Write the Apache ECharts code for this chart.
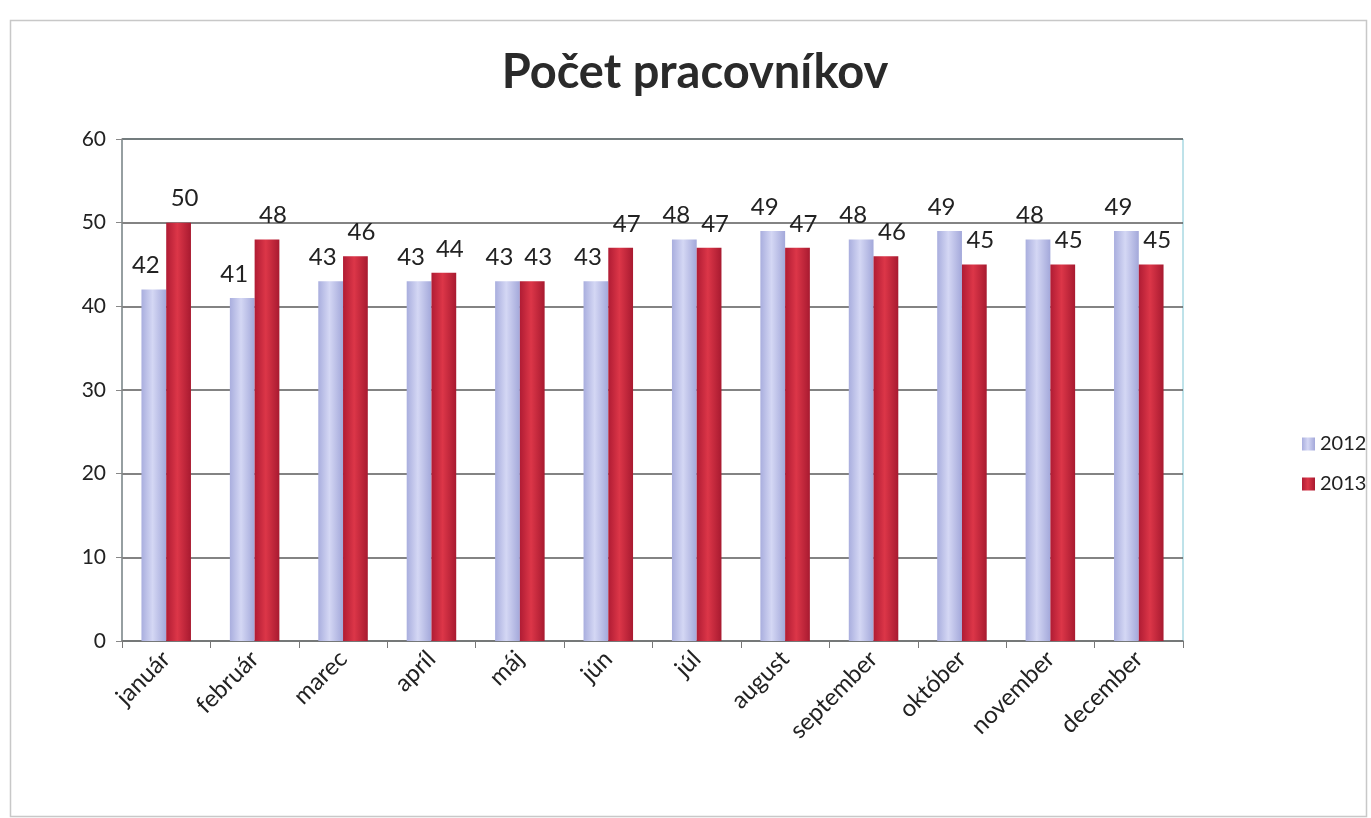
<!DOCTYPE html>
<html>
<head>
<meta charset="utf-8">
<script src="https://cdn.jsdelivr.net/npm/echarts@6/dist/echarts.min.js"></script>
<style>
html,body{margin:0;padding:0;background:#fff;}
#chart{width:1371px;height:818px;}
</style>
</head>
<body>
<div id="chart"></div>
<script>
const categories = ['január','február','marec','apríl','máj','jún','júl','august','september','október','november','december'];
const values2012 = [42,41,43,43,43,43,48,49,48,49,48,49];
const values2013 = [50,48,46,44,43,47,47,47,46,45,45,45];
const yTicks = [0,10,20,30,40,50,60];

const FONT = 'Lato, "Open Sans", sans-serif';
const chart = echarts.init(document.getElementById('chart'));

const lav = new echarts.graphic.LinearGradient(0,0,1,0,[
  {offset:0,color:'#a9aede'},
  {offset:0.45,color:'#d4d7f4'},
  {offset:1,color:'#a3a8da'}
]);
const red = new echarts.graphic.LinearGradient(0,0,1,0,[
  {offset:0,color:'#b01c34'},
  {offset:0.45,color:'#dc3648'},
  {offset:1,color:'#a81a30'}
]);

chart.setOption({
  animation:false,
  backgroundColor:'#fff',
  graphic:[{
    type:'rect', left:8, top:18, shape:{width:1356,height:796},
    style:{fill:'none',stroke:'#c8c8c8',lineWidth:1.5}, silent:true
  }],
  title:{
    text:'Počet pracovníkov', left:690, top:44, textAlign:'center',
    textStyle:{fontFamily:FONT,fontSize:47,fontWeight:'bold',color:'#2a2a2a'}
  },
  legend:{
    orient:'vertical', left:1302, top:434, itemWidth:13, itemHeight:13, itemGap:20,
    icon:'rect', padding:0,
    textStyle:{fontFamily:FONT,fontSize:20,color:'#222'},
    data:['2012','2013']
  },
  grid:{left:122,right:188,top:139,bottom:177,show:true,borderColor:'#7fc6d4',borderWidth:1,backgroundColor:'transparent'},
  xAxis:{
    type:'category', data:categories,
    axisLine:{lineStyle:{color:'#777',width:1.5}},
    axisTick:{show:true,alignWithLabel:false,length:7,lineStyle:{color:'#777'}},
    axisLabel:{rotate:45,fontFamily:FONT,fontSize:24,color:'#222',margin:14,interval:0}
  },
  yAxis:{
    type:'value', min:yTicks[0], max:yTicks[yTicks.length-1], interval:10,
    axisLine:{show:true,lineStyle:{color:'#888',width:1.5}},
    axisTick:{show:true,length:6,lineStyle:{color:'#888'}},
    axisLabel:{fontFamily:FONT,fontSize:21,color:'#222',margin:16},
    splitLine:{lineStyle:{color:'#5a5a5a',width:1.5}}
  },
  series:[
    {name:'2012',type:'bar',data:values2012,barGap:'0%',barCategoryGap:'44%',
     itemStyle:{color:lav},
     label:{show:true,position:'top',offset:[-8,-4],distance:8,fontFamily:FONT,fontSize:24,color:'#222'}},
    {name:'2013',type:'bar',data:values2013,
     itemStyle:{color:red},
     label:{show:true,position:'top',offset:[6,-4],distance:8,fontFamily:FONT,fontSize:24,color:'#222'}}
  ]
});
</script>
</body>
</html>
